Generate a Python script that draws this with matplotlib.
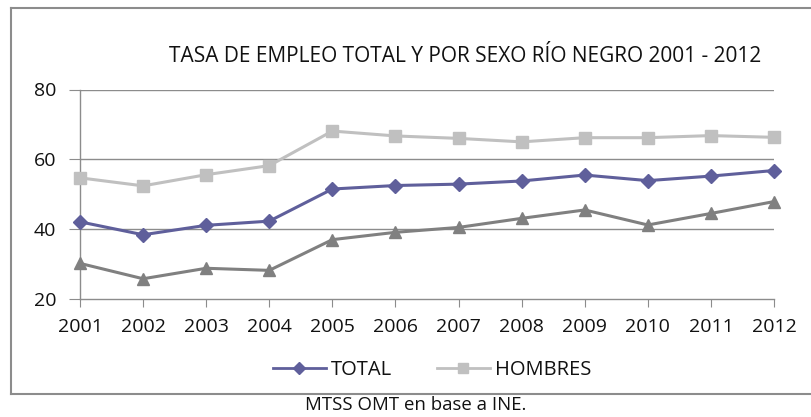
import numpy as np
import matplotlib.pyplot as plt
from matplotlib.lines import Line2D

years = [2001, 2002, 2003, 2004, 2005, 2006, 2007, 2008, 2009, 2010, 2011, 2012]
total = [42.1, 38.4, 41.1, 42.3, 51.5, 52.5, 52.9, 53.8, 55.5, 53.9, 55.2, 56.8]
hombres = [54.7, 52.4, 55.6, 58.2, 68.1, 66.7, 66.0, 65.0, 66.2, 66.2, 66.8, 66.3]
mujeres = [30.2, 25.8, 28.8, 28.2, 37.0, 39.1, 40.5, 43.1, 45.5, 41.2, 44.5, 47.9]
yticks = [20, 40, 60, 80]

title = "TASA DE EMPLEO TOTAL Y POR SEXO RÍO NEGRO 2001 - 2012"
source = "MTSS OMT en base a INE."

plt.rcParams['font.family'] = ['Open Sans', 'DejaVu Sans']

fig = plt.figure(figsize=(8.11, 4.17), dpi=100)
ax = fig.add_axes([80/811, 1-299/417, 694/811, 209.5/417])

c_total = '#5f5f9b'
c_hom = '#c0c0c0'
c_muj = '#808080'
grid_c = '#8c8c8c'

ax.plot(years, hombres, color=c_hom, lw=2.2, marker='s', ms=8, zorder=3, clip_on=False)
ax.plot(years, total, color=c_total, lw=2.2, marker='D', ms=7, zorder=4, clip_on=False)
ax.plot(years, mujeres, color=c_muj, lw=2.2, marker='^', ms=9, zorder=3, clip_on=False)

ax.set_xlim(2001, 2012)
ax.set_ylim(20, 80)
ax.set_xticks(years)
ax.set_yticks(yticks)
for y in yticks[1:]:
    ax.axhline(y, color=grid_c, lw=1, zorder=1)
for s in ['top', 'right']:
    ax.spines[s].set_visible(False)
for s in ['left', 'bottom']:
    ax.spines[s].set_color(grid_c)
    ax.spines[s].set_linewidth(1)
ax.tick_params(axis='x', length=6, color=grid_c, labelsize=14, pad=8, labelcolor='#111111')
ax.tick_params(axis='y', length=8, color=grid_c, labelsize=14, pad=9, labelcolor='#111111')

fig.text(465/811, 1-57/417, title, ha='center', va='center', fontsize=15, color='#111111')

handles = [Line2D([], [], color=c_total, lw=2, marker='D', ms=6),
           Line2D([], [], color=c_hom, lw=2, marker='s', ms=7)]
leg = fig.legend(handles, ['TOTAL', 'HOMBRES'], loc='center', bbox_to_anchor=(432/811, 1-370/417),
                 ncol=2, frameon=False, handlelength=2.65, handletextpad=0.25,
                 columnspacing=2.2, prop={'size': 14.5})
for t in leg.get_texts():
    t.set_color('#111111')

# outer frame
fc = '#8c8c8c'
fig.add_artist(Line2D([11/811, 1], [1-8/417, 1-8/417], color=fc, lw=1.5))
fig.add_artist(Line2D([11/811, 11/811], [1-8/417, 1-393.5/417], color=fc, lw=1.5))
fig.add_artist(Line2D([11/811, 1], [1-393.5/417, 1-393.5/417], color=fc, lw=1.5))

fig.text(416/811, 1-405/417, source, ha='center', va='center', fontsize=13.4, color='#111111')

fig.savefig('out.png', dpi=100)
